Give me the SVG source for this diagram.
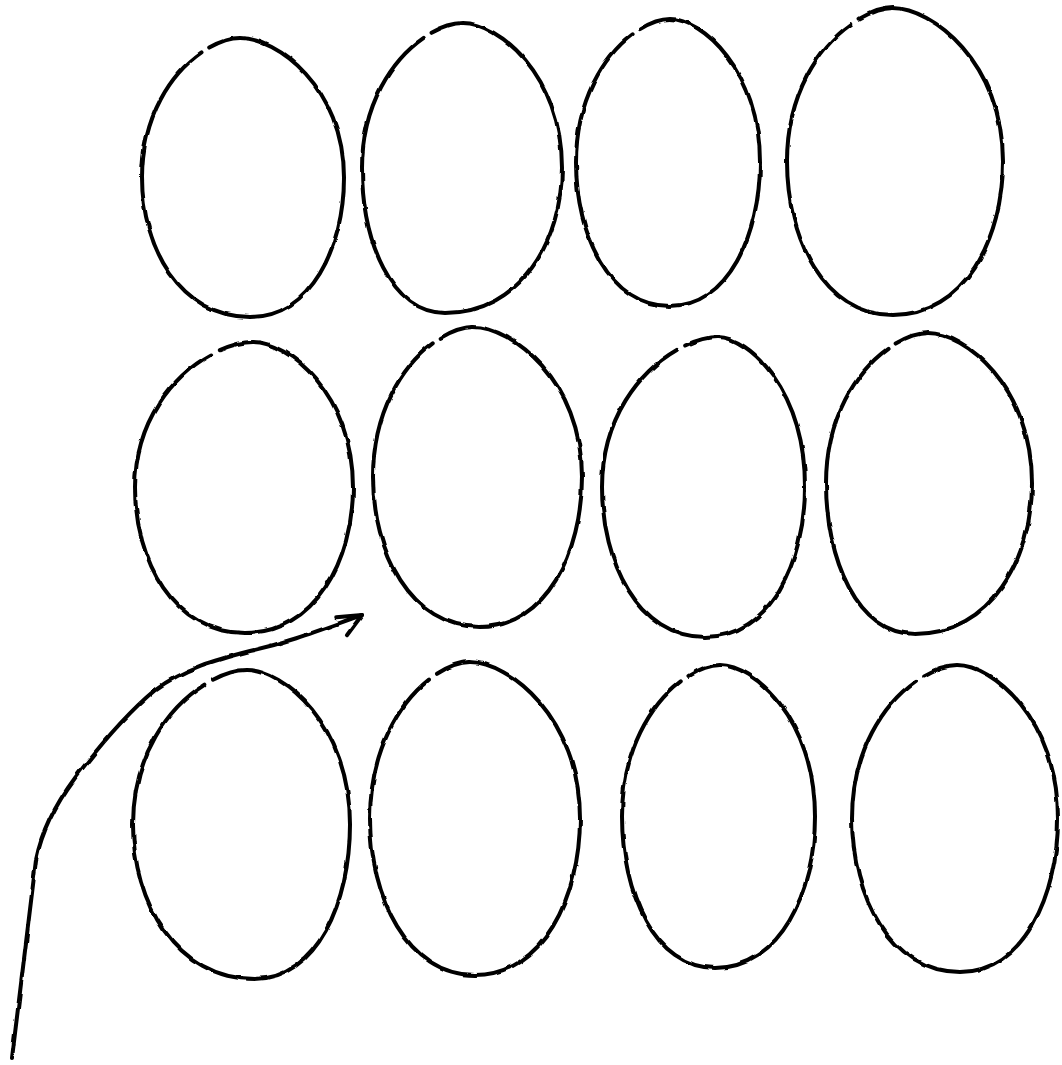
<svg xmlns="http://www.w3.org/2000/svg" width="1062" height="1065" viewBox="0 0 1062 1065">
<style>
.egg{fill:none;stroke:#000;stroke-width:4;stroke-linecap:round;stroke-linejoin:round;stroke-dasharray:945 12 43}
.conn{fill:none;stroke:#000;stroke-width:4;stroke-linecap:round;stroke-linejoin:round}
</style>
<defs>
<filter id="wobble" filterUnits="userSpaceOnUse" x="0" y="0" width="1062" height="1065">
<feTurbulence type="fractalNoise" baseFrequency="0.06" numOctaves="2" seed="3" result="n"/>
<feDisplacementMap in="SourceGraphic" in2="n" scale="3" xChannelSelector="R" yChannelSelector="G"/>
</filter>
<marker id="head" markerUnits="userSpaceOnUse" markerWidth="40" markerHeight="40" refX="0" refY="0" viewBox="-30 -20 40 40" orient="auto" overflow="visible">
<path d="M-25,-6.6 L0,0 L-21,14" fill="none" stroke="#000" stroke-width="4" stroke-linecap="round" stroke-linejoin="round"/>
</marker>
</defs>
<rect width="1062" height="1065" fill="#fff"/>
<g filter="url(#wobble)">
<g id="egg1"><path class="egg" pathLength="1000" d="M240,38 C276.4,38 344,86.8 344,177.5 C344,247.3 311,317 250,317 C180,317 142,247.3 142,177.5 C142,86.8 205.7,38 240,38"/></g>
<g id="egg2"><path class="egg" pathLength="1000" d="M463,23 C497.7,23 562,73.8 562,168 C562,240.5 521,313 445,313 C391,313 362,240.5 362,168 C362,73.8 427.7,23 463,23"/></g>
<g id="egg3"><path class="egg" pathLength="1000" d="M670,19 C701.5,19 760,69.2 760,162.5 C760,234.3 728.5,306 670,306 C609,306 576,234.3 576,162.5 C576,69.2 637.1,19 670,19"/></g>
<g id="egg4"><path class="egg" pathLength="1000" d="M893,8 C931.5,8 1003,61.7 1003,161.5 C1003,238.3 964.5,315 893,315 C824,315 787,238.3 787,161.5 C787,61.7 855.9,8 893,8"/></g>
<g id="egg5"><path class="egg" pathLength="1000" d="M253,342 C288,342 353,392.9 353,487.5 C353,560.3 315,633 245,633 C173.5,633 135,560.3 135,487.5 C135,392.9 211.7,342 253,342"/></g>
<g id="egg6"><path class="egg" pathLength="1000" d="M473,327 C511.2,327 582,379.5 582,477 C582,552 546.3,627 480,627 C410.5,627 373,552 373,477 C373,379.5 438,327 473,327"/></g>
<g id="egg7"><path class="egg" pathLength="1000" d="M718,337 C748.5,337 805,389.5 805,487 C805,562 770,637 705,637 C638,637 602,562 602,487 C602,389.5 677.4,337 718,337"/></g>
<g id="egg8"><path class="egg" pathLength="1000" d="M928,333 C964.4,333 1032,385.7 1032,483.5 C1032,558.8 991,634 915,634 C857,634 826,558.8 826,483.5 C826,385.7 892.3,333 928,333"/></g>
<g id="egg9"><path class="egg" pathLength="1000" d="M247,670 C283,670 350,724.1 350,824.5 C350,901.8 317,979 255,979 C175.7,979 133,901.8 133,824.5 C133,724.1 207.1,670 247,670"/></g>
<g id="egg10"><path class="egg" pathLength="1000" d="M470,662 C508.5,662 580,716.8 580,818.5 C580,896.8 543,975 475,975 C407,975 370,896.8 370,818.5 C370,716.8 435,662 470,662"/></g>
<g id="egg11"><path class="egg" pathLength="1000" d="M720,665 C753.3,665 815,718 815,816.5 C815,892.3 780,968 715,968 C654.5,968 622,892.3 622,816.5 C622,718 685.7,665 720,665"/></g>
<g id="egg12"><path class="egg" pathLength="1000" d="M957,665 C992.4,665 1058,718.7 1058,818.5 C1058,895.3 1023.7,972 960,972 C890,972 852,895.3 852,818.5 C852,718.7 920.3,665 957,665"/></g>
<g id="connectors"><path class="conn" marker-end="url(#head)" d="M12,1058 L36,860 C42,830 55,805 75,778 C100,745 125,715 155,690 C185,668 215,660 250,651 C290,642 320,630 362,615"/></g>
</g>
</svg>
